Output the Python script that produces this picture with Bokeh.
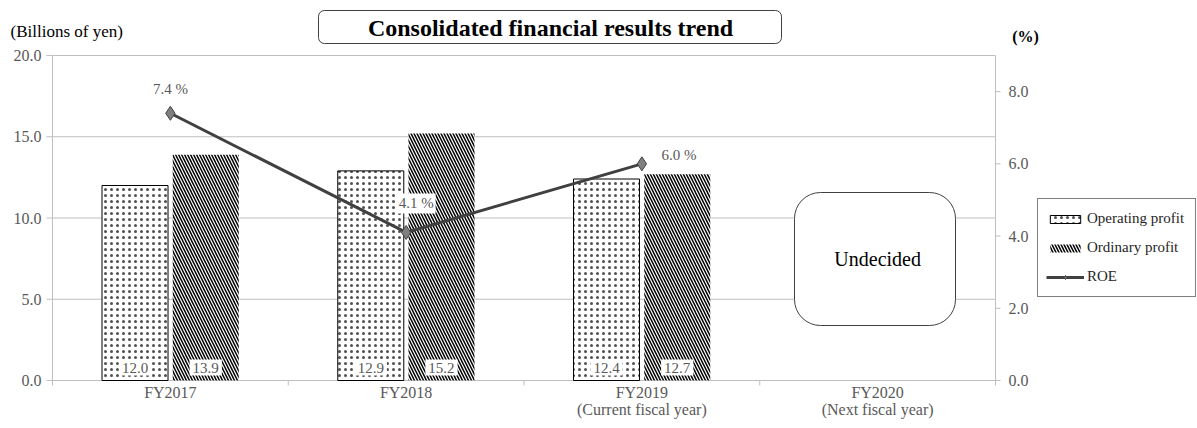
import numpy as np
from bokeh.plotting import figure
from bokeh.models import (ColumnDataSource, Range1d, Legend, LegendItem, Label, BoxAnnotation)
from bokeh.transform import dodge
from bokeh.core.properties import value
from bokeh.embed import file_html
from bokeh.resources import INLINE

# ---- data ----
years = ["FY2017", "FY2018", "FY2019\n(Current fiscal year)", "FY2020\n(Next fiscal year)"]
operating_profit = [12.0, 12.9, 12.4]
ordinary_profit = [13.9, 15.2, 12.7]
roe = [7.4, 4.1, 6.0]
left_ticks = [0, 5, 10, 15, 20]
right_ticks = [0, 2, 4, 6, 8]
left_max, right_max = 20, 9

FONT = "Liberation Serif"
GRAY_TXT = "#595959"
GRID = "#bfbfbf"
AX_FS = "16px"

W, H = 1197, 428
# frame geometry of the value area (pixels on the page)
FL, FR, FT, FB = 52, 995, 55, 380
n_cat = len(years)
ppx = (FR - FL) / n_cat           # pixels per category
ppy = (FB - FT) / left_max        # pixels per left unit
def dx(px): return (px - FL) / ppx
def dy(py): return (FB - py) / ppy

cat_x = [i + 0.5 for i in range(n_cat)]
n_res = len(operating_profit)

src = ColumnDataSource(dict(
    x=cat_x[:n_res], op=operating_profit, ordi=ordinary_profit,
    op_txt=["%.1f" % v for v in operating_profit],
    ord_txt=["%.1f" % v for v in ordinary_profit],
    zero=[0] * n_res,
))
roe_src = ColumnDataSource(dict(
    x=cat_x[:n_res], roe=roe, txt=["%.1f %%" % v for v in roe],
    xo=[0, 10, 37], yo=[-24, -29, -9],
))

p = figure(width=W, height=H, x_range=Range1d(dx(0), dx(W)), y_range=Range1d(dy(H), dy(0)),
           output_backend="svg", toolbar_location=None, min_border=0,
           x_axis_location=None, y_axis_location=None)
for g in p.grid:
    g.visible = False
p.outline_line_color = None
p.background_fill_color = "white"
p.border_fill_color = "white"
k = right_max / left_max
p.extra_y_ranges = {"roe": Range1d(dy(H) * k, dy(0) * k)}

# ---- grid lines ----
grid_src = ColumnDataSource(dict(y=left_ticks[1:]))
p.segment(x0=0, x1=n_cat, y0="y", y1="y", source=grid_src, line_color=GRID, line_width=1)

# ---- left axis ----
p.segment(x0=0, x1=0, y0=0, y1=left_max, line_color=GRID, line_width=1)
lt_src = ColumnDataSource(dict(y=left_ticks, t=["%.1f" % v for v in left_ticks], x=[0] * len(left_ticks)))
p.ray(x="x", y="y", source=lt_src, length=6, angle=np.pi, length_units="screen", line_color=GRID)
p.text(x="x", y="y", text="t", source=lt_src, x_offset=-11, text_align="right", text_baseline="middle",
       text_font=value(FONT), text_font_size=AX_FS, text_color=GRAY_TXT)

# ---- right axis ----
p.segment(x0=n_cat, x1=n_cat, y0=0, y1=right_max, y_range_name="roe", line_color=GRID, line_width=1)
rt_src = ColumnDataSource(dict(y=right_ticks, t=["%.1f" % v for v in right_ticks], x=[n_cat] * len(right_ticks)))
p.ray(x="x", y="y", source=rt_src, y_range_name="roe", length=5, angle=0, length_units="screen",
      line_color=GRID)
p.text(x="x", y="y", text="t", source=rt_src, y_range_name="roe", x_offset=13, text_align="left",
       text_baseline="middle", text_font=value(FONT), text_font_size=AX_FS, text_color=GRAY_TXT)

# ---- category axis ----
p.segment(x0=0, x1=n_cat, y0=0, y1=0, line_color=GRID, line_width=1)
xt_src = ColumnDataSource(dict(x=list(range(n_cat + 1)), y=[0] * (n_cat + 1)))
p.ray(x="x", y="y", source=xt_src, length=5, angle=-np.pi / 2, length_units="screen", line_color=GRID)
cat_src = ColumnDataSource(dict(x=cat_x, y=[0] * n_cat, t=years))
p.text(x="x", y="y", text="t", source=cat_src, y_offset=3, text_align="center", text_baseline="top",
       text_font=value(FONT), text_font_size=AX_FS, text_color=GRAY_TXT, text_line_height=1.05)

# ---- bars ----
r_op = p.vbar(x=dodge("x", -0.15), top="op", width=0.28, source=src,
              fill_color="white", line_color="black", line_width=1,
              hatch_pattern="dot", hatch_color="#505050", hatch_scale=6, hatch_weight=1.2)
r_ord = p.vbar(x=dodge("x", 0.15), top="ordi", width=0.28, source=src,
               fill_color="white", line_color=None,
               hatch_pattern="left_diagonal_line", hatch_color="black", hatch_scale=6, hatch_weight=1.5)

for col, off in (("op_txt", -0.15), ("ord_txt", 0.15)):
    p.text(x=dodge("x", off), y="zero", text=col, source=src,
           text_align="center", text_baseline="middle", y_offset=-13,
           text_font=value(FONT), text_font_size="15px", text_color=GRAY_TXT,
           background_fill_color="white", padding=3)

# ---- ROE ----
r_roe_line = p.line(x="x", y="roe", source=roe_src, y_range_name="roe",
                    line_color="#404040", line_width=3)
r_roe_pts = p.scatter(x="x", y="roe", source=roe_src, y_range_name="roe",
                      marker="diamond", size=14, fill_color="#7f7f7f", line_color="#404040")
p.text(x="x", y="roe", text="txt", source=roe_src, y_range_name="roe",
       x_offset="xo", y_offset="yo", text_align="center", text_baseline="middle",
       text_font=value(FONT), text_font_size="15px", text_color=GRAY_TXT,
       background_fill_color="white", padding=2)

# ---- Undecided box ----
p.add_layout(BoxAnnotation(left=dx(794), right=dx(955), top=dy(192), bottom=dy(325),
                           fill_color="white", fill_alpha=1, line_color="#404040", line_alpha=1,
                           line_width=1, border_radius=26))
p.add_layout(Label(x=cat_x[3], y=dy(258), text="Undecided", text_align="center", text_baseline="middle",
                   text_font=FONT, text_font_size="20px", text_color="black"))

# ---- header ----
p.add_layout(BoxAnnotation(left=dx(318), right=dx(781), top=dy(10), bottom=dy(43),
                           fill_color="white", fill_alpha=1, line_color="#404040", line_alpha=1,
                           line_width=1, border_radius=6))
p.add_layout(Label(x=dx(550), y=dy(27), text="Consolidated financial results trend",
                   text_align="center", text_baseline="middle",
                   text_font=FONT, text_font_size="24px", text_font_style="bold", text_color="black"))
p.add_layout(Label(x=dx(10), y=dy(31), text="(Billions of yen)", text_align="left", text_baseline="middle",
                   text_font=FONT, text_font_size="17px", text_color="black"))
p.add_layout(Label(x=dx(1025), y=dy(36), text="(%)", text_align="center", text_baseline="middle",
                   text_font=FONT, text_font_size="16px", text_font_style="bold", text_color="black"))

# ---- legend ----
legend = Legend(items=[
    LegendItem(label="Operating profit", renderers=[r_op]),
    LegendItem(label="Ordinary profit", renderers=[r_ord]),
    LegendItem(label="ROE", renderers=[r_roe_line, r_roe_pts]),
], location=(1037, H - 297))
legend.label_text_font = FONT
legend.label_text_font_size = "15px"
legend.label_text_color = "#262626"
legend.border_line_color = "black"
legend.border_line_width = 1
legend.glyph_width = 38
legend.glyph_height = 10
legend.label_height = 23
legend.label_width = 100
legend.spacing = 6
legend.padding = 8
legend.margin = 0
legend.label_standoff = 3
legend.background_fill_alpha = 1
p.add_layout(legend, "center")

open("out.html", "w").write(file_html(p, INLINE))
